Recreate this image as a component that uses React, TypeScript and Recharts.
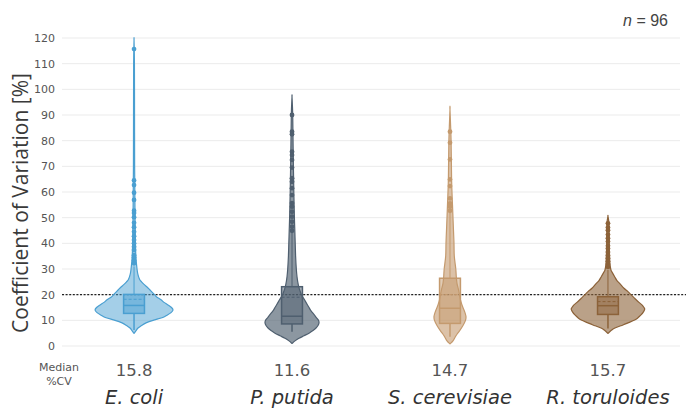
import { ComposedChart, Scatter, XAxis, YAxis, CartesianGrid, ReferenceLine } from 'recharts';

const species = ['E. coli', 'P. putida', 'S. cerevisiae', 'R. toruloides'];
const centers = [0.5, 1.5, 2.5, 3.5];
const medianCV = [15.8, 11.6, 14.7, 15.7];
const q1 = [12.7, 8.6, 8.8, 12.3];
const q3 = [20.1, 23.1, 26.4, 19.2];
const means = [18.2, 19.0, 20.0, 17.3];
const whiskerLow = [6.2, 5.6, 3.6, 6.8];
const whiskerHigh = [31.0, 44.5, 52.0, 29.6];
const yTicks = [0, 10, 20, 30, 40, 50, 60, 70, 80, 90, 100, 110, 120];
const threshold = 20;

// violin outlines: CV level and density (half width)
const ecoliLevels = [4.9, 6, 7, 8, 9, 10, 11, 12, 13, 14, 15, 16, 17, 18, 19, 20, 21, 22, 23, 24, 25, 26, 28, 30, 33, 36, 40, 45, 50, 60, 70, 90, 110, 119];
const ecoliDensity = [0, 2, 4, 7.5, 12, 19, 28, 33, 37, 39, 37.5, 34, 30, 27, 23, 20.5, 18, 15.5, 13, 10, 7.5, 5.5, 3.8, 3, 2.2, 1.7, 1.4, 1.2, 1, 0.8, 0.6, 0.5, 0.4, 0];
const putidaLevels = [1, 2, 3, 4, 5, 6, 7, 8, 9, 10, 11, 12, 13, 14, 15, 16, 18, 20, 22, 24, 27, 30, 35, 40, 45, 50, 60, 75, 90, 97];
const putidaDensity = [0, 3, 7, 12, 17, 21, 24, 26, 27, 26.5, 24.5, 22.5, 20.5, 18.5, 17, 15.5, 12.5, 9.5, 7.5, 6.2, 5, 4.3, 3.6, 3.2, 2.8, 2.4, 1.8, 1.2, 0.7, 0];
const cerevisiaeLevels = [0.8, 2, 4, 6, 8, 10, 11.5, 13, 14, 16, 18, 20, 22, 24.4, 27, 30, 35, 40, 45, 55, 65, 80, 92];
const cerevisiaeDensity = [0, 3, 6, 9.7, 13, 15.5, 16, 15, 14, 12, 10.5, 9.5, 8.5, 7, 6.3, 5.8, 4.3, 4, 3.5, 2.5, 1.6, 1.1, 0];
const toruloidesLevels = [4.9, 6.2, 7, 8.2, 9, 10.1, 11, 12.1, 13, 14.3, 15, 16, 17, 18.6, 20, 21.2, 22.5, 24.4, 25.5, 27, 28.5, 29.6, 32, 36, 42, 48, 50.6];
const toruloidesDensity = [0, 3.7, 7, 15, 20, 26.7, 30, 33, 35, 36.7, 36, 34, 31, 26.7, 23, 20, 16, 11.7, 9, 6.7, 4.5, 3, 2, 1.5, 1.2, 0.9, 0];

const ecoliOutliers = [115.7, 64.5, 62.7, 59.7, 56.9, 52.7, 51.8, 50.2, 48, 46.3, 44.5, 42.8, 41.3, 40, 38.7, 37.4, 35.4, 34.5, 33.3, 32.2];
const putidaOutliers = [90, 83.5, 82.5, 75.7, 74.4, 72.5, 69.5, 65.4, 64, 61.5, 58.8, 55.7, 54.3, 52.3, 50.4, 48.4, 46.5, 44.9];
const cerevisiaeOutliers = [83.5, 79.2, 72.7, 64.9, 62.3, 57.5, 55.6, 54.3, 52.7];
const toruloidesOutliers = [47.8, 46.2, 45.1, 43.4, 42.0, 40.7, 39.1, 38.0, 36.6, 35.3, 34.2, 33.0, 31.9, 30.8];

const levels = [ecoliLevels, putidaLevels, cerevisiaeLevels, toruloidesLevels];
const densities = [ecoliDensity, putidaDensity, cerevisiaeDensity, toruloidesDensity];
const outliers = [ecoliOutliers, putidaOutliers, cerevisiaeOutliers, toruloidesOutliers];

const colors = ['#4A9FD1', '#4F5F6F', '#C49A6E', '#8C6239'];
const fillOpacity = [0.5, 0.65, 0.6, 0.6];
const DENSITY_SCALE = 1 / 158;
const BOX_HALF = 0.066;

const outline = (i: number) => {
  const c = centers[i];
  const lv = levels[i];
  const d = densities[i];
  const right = lv.map((y, k) => ({ x: c + d[k] * DENSITY_SCALE, y }));
  const left = lv.map((y, k) => ({ x: c - d[k] * DENSITY_SCALE, y })).reverse();
  return [...right, ...left];
};

const boxPoints = (i: number) => [
  { x: centers[i] - BOX_HALF, y: q1[i] },
  { x: centers[i] + BOX_HALF, y: q3[i] },
  { x: centers[i], y: medianCV[i] },
  { x: centers[i], y: means[i] },
  { x: centers[i], y: whiskerLow[i] },
  { x: centers[i], y: whiskerHigh[i] },
];

// smooth closed path through points (catmull-rom)
const smoothPath = (pts: { x: number; y: number }[]) => {
  let d = `M${pts[0].x},${pts[0].y}`;
  for (let i = 0; i < pts.length - 1; i++) {
    const p0 = pts[i - 1] || pts[i];
    const p1 = pts[i];
    const p2 = pts[i + 1];
    const p3 = pts[i + 2] || p2;
    const c1x = p1.x + (p2.x - p0.x) / 6;
    const c1y = p1.y + (p2.y - p0.y) / 6;
    const c2x = p2.x - (p3.x - p1.x) / 6;
    const c2y = p2.y - (p3.y - p1.y) / 6;
    d += `C${c1x},${c1y} ${c2x},${c2y} ${p2.x},${p2.y}`;
  }
  return d + 'Z';
};

const violinLine = (i: number) => (p: any) => (
  <path d={smoothPath(p.points)} fill={colors[i]} fillOpacity={fillOpacity[i]} stroke={colors[i]} strokeWidth={1.2} strokeLinejoin="round" />
);

const boxLine = (i: number) => (p: any) => {
  const [a, b, m, mn, wl, wh] = p.points;
  return (
    <g stroke={colors[i]} strokeWidth={1.5}>
      <line x1={m.x} x2={m.x} y1={wl.y} y2={a.y} />
      <line x1={m.x} x2={m.x} y1={b.y} y2={wh.y} strokeWidth={1} />
      <rect x={a.x} y={b.y} width={b.x - a.x} height={a.y - b.y} fill={colors[i]} fillOpacity={0.5} />
      <line x1={a.x} x2={b.x} y1={m.y} y2={m.y} />
      <line x1={a.x} x2={b.x} y1={mn.y} y2={mn.y} strokeDasharray="3 2" strokeWidth={1} />
    </g>
  );
};

const noShape = () => <g />;

const SpeciesTick = (props: any) => {
  const { x, y, payload } = props;
  const i = centers.indexOf(payload.value);
  if (i < 0) return <g />;
  return (
    <g>
      <text x={x} y={y + 30} textAnchor="middle" fontSize={16.5} fill="#555" fontFamily="DejaVu Sans">
        {medianCV[i].toFixed(1)}
      </text>
      <text x={x} y={y + 58} textAnchor="middle" fontSize={19.5} fill="#333" fontStyle="italic" fontFamily="DejaVu Sans">
        {species[i]}
      </text>
    </g>
  );
};

export default function App() {
  return (
    <div style={{ position: 'absolute', left: 0, top: 0, width: 686, height: 409, background: '#fff' }}>
      <ComposedChart width={686} height={409} margin={{ top: 38, right: 6, bottom: 0, left: 0 }}>
        <CartesianGrid vertical={false} stroke="#ebebeb" strokeWidth={1} />
        <XAxis
          type="number"
          dataKey="x"
          domain={[0.044, 3.956]}
          allowDataOverflow
          ticks={centers}
          interval={0}
          tick={<SpeciesTick />}
          axisLine={false}
          tickLine={false}
          tickSize={0}
          tickMargin={0}
          height={63}
        />
        <YAxis
          type="number"
          dataKey="y"
          domain={[0, 120]}
          ticks={yTicks}
          interval={0}
          axisLine={false}
          tickLine={false}
          tickSize={0}
          tickMargin={7}
          width={62}
          tick={{ fill: '#555', fontSize: 11, fontFamily: 'DejaVu Sans' }}
        />
        {species.map((s, i) => (
          <Scatter key={'v' + s} data={outline(i)} line={violinLine(i)} shape={noShape} isAnimationActive={false} />
        ))}
        {species.map((s, i) => (
          <Scatter key={'b' + s} data={boxPoints(i)} line={boxLine(i)} shape={noShape} isAnimationActive={false} />
        ))}
        {species.map((s, i) => (
          <Scatter
            key={'o' + s}
            data={outliers[i].map((v) => ({ x: centers[i], y: v }))}
            shape={(p: any) => <circle cx={p.cx} cy={p.cy} r={2.4} fill={colors[i]} />}
            isAnimationActive={false}
          />
        ))}
        <ReferenceLine
          segment={[{ x: 0.044, y: threshold }, { x: 4.0, y: threshold }]}
          ifOverflow="visible"
          stroke="#222"
          strokeWidth={1.4}
          strokeDasharray="2 1.6"
        />
      </ComposedChart>
      <div
        style={{
          position: 'absolute', left: 20, top: 203, transform: 'translate(-50%, -50%) rotate(-90deg)',
          whiteSpace: 'nowrap', fontSize: 21, fontFamily: 'Open Sans', color: '#3a3a3a',
        }}
      >
        Coefficient of Variation [%]
      </div>
      <div
        style={{
          position: 'absolute', left: 30, top: 361, width: 58, textAlign: 'center',
          fontSize: 11, lineHeight: '14px', fontFamily: 'DejaVu Sans', color: '#555',
        }}
      >
        Median<br />%CV
      </div>
      <div
        style={{
          position: 'absolute', right: 18, top: 12, fontSize: 16, fontFamily: 'Liberation Sans', color: '#444',
        }}
      >
        <i>n</i> = 96
      </div>
    </div>
  );
}
